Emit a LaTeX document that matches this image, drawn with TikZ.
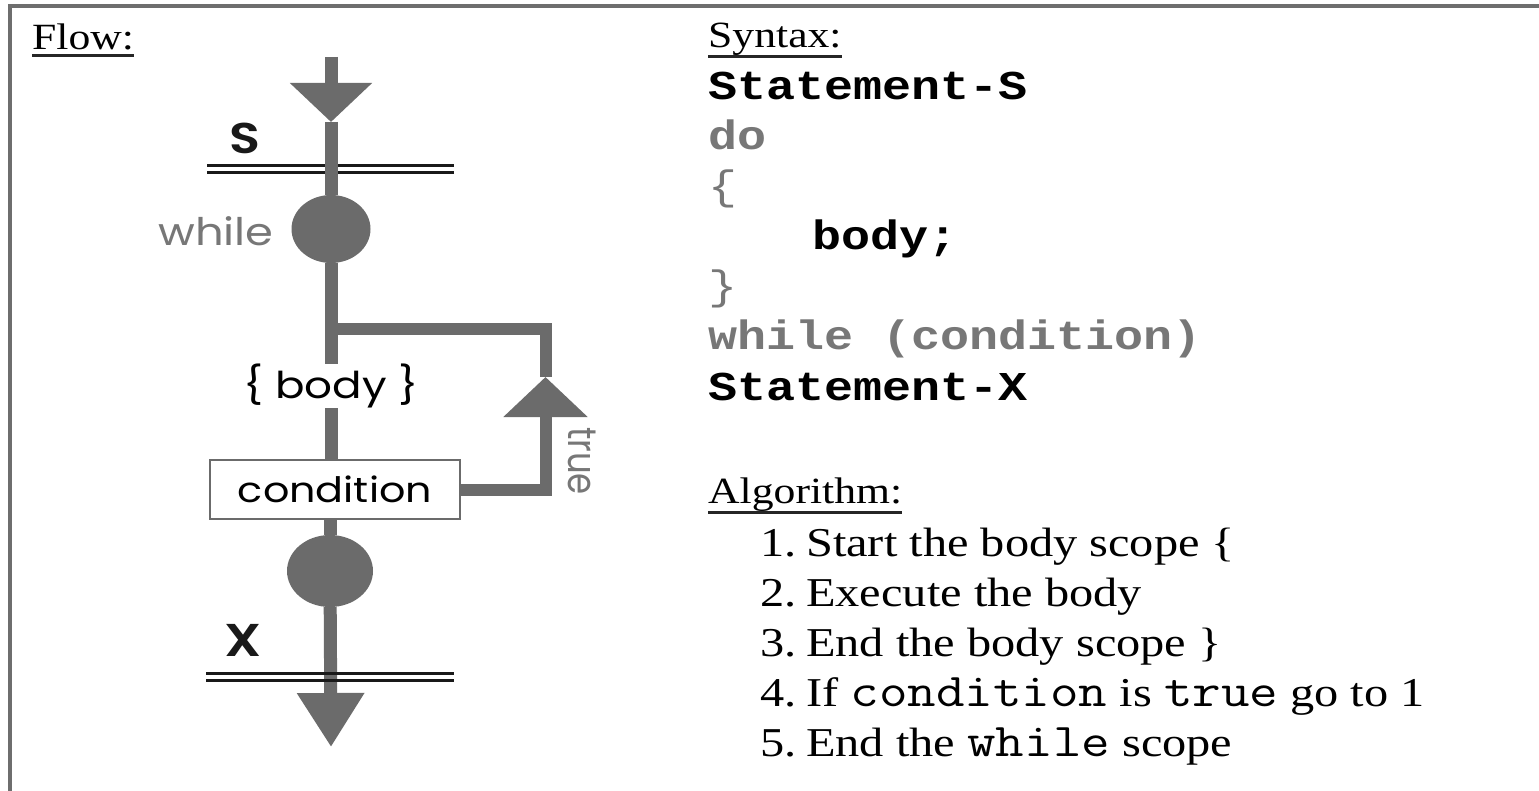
\documentclass[tikz,border=0pt]{standalone}
\usepackage{fontspec}
\usepackage{graphicx}
\usetikzlibrary{shapes.geometric,arrows.meta}
\setmainfont{Liberation Serif}
\newfontfamily\codefont{Liberation Mono}
\newfontfamily\flowfont{Poppins}
\newfontfamily\flowmid{Poppins SemiBold}
\definecolor{flowgray}{HTML}{6B6B6B}
\definecolor{codegray}{HTML}{777777}
\definecolor{framegray}{HTML}{6E6E6E}
% glyphs are set slightly wide throughout
\newcommand{\wideh}[1]{\scalebox{1.18}[1]{#1}}
\newcommand{\mono}[1]{{\ttfamily\fontsize{47}{48}\selectfont #1}}

\begin{document}
\begin{tikzpicture}[x=1pt,y=-1pt,
  bar/.style={draw=flowgray,line width=13pt},
  branch/.style={draw=flowgray,line width=12pt,line join=miter},
  dot/.style={ellipse,fill=flowgray,inner sep=0pt},
  rail/.style={draw=black!90,line width=3pt},
  lbl/.style={inner sep=0pt,font={\flowfont\fontsize{38}{44}\selectfont}},
  head/.style={inner sep=0pt,anchor=base west,font={\fontsize{37}{42}\selectfont}},
  code/.style={inner sep=0pt,anchor=base west,font={\codefont\bfseries\fontsize{41}{48}\selectfont}},
  item/.style={inner sep=0pt,anchor=base west,font={\fontsize{41}{46}\selectfont}},
  uline/.style={draw=black!85,line width=3pt},
]
\useasboundingbox (0,0) rectangle (1539,791);
\fill[white] (0,0) rectangle (1539,791);

% frame
\draw[framegray,line width=4pt,line join=miter] (10,791) -- (10,6) -- (1539,6);

% ---------- flow ----------
\node[head] (flow) at (32,50) {\wideh{Flow:}};
\draw[uline] ([yshift=-6pt]flow.base west) -- ([yshift=-6pt]flow.base east);

% statement S rails
\draw[rail] (207,165.5) -- (454,165.5);
\draw[rail] (207,173) -- (454,173);
\node[lbl,font={\flowmid\fontsize{43}{48}\selectfont},text=black!90] (s) at (245,138) {\wideh{S}};

\coordinate (top) at (331,57);
\coordinate (ttip) at (331,122);
\node[dot,minimum width=79pt,minimum height=68pt] (w1) at (331,229) {};
\node[lbl,text=codegray] (wl) at (216,231) {\wideh{while}};

\node[lbl,font={\flowfont\fontsize{37}{44}\selectfont}] (body) at (331,386) {\wideh{\{ body \}}};
\node[draw=flowgray,line width=2.5pt,fill=white,minimum width=250pt,minimum height=59pt,
      font={\flowfont\fontsize{35}{40}\selectfont}] (cond) at (335,489.5) {\wideh{condition}};
\node[dot,minimum width=86pt,minimum height=72pt] (w2) at (330,571) {};

\coordinate (j) at (331,329);
\coordinate (rtip) at (545.5,377);
\coordinate (btip) at (331,747);

\draw[bar,-{Triangle[width=80pt,length=39pt]}] (top) -- (ttip);
\draw[bar] (ttip) -- (w1);
\draw[bar] (w1) -- (body);
\draw[bar] (body) -- (body |- cond.north);
\draw[bar] (w2 |- cond.south) -- (w2);
\draw[bar,-{Triangle[width=64pt,length=54pt]}] (w2) -- (btip);

\draw[branch,-{Triangle[width=82pt,length=40pt]}] (cond.east) -| (rtip);
\draw[branch] (rtip) |- (j);

\node[inner sep=0pt,text=codegray,font={\flowfont\fontsize{34}{40}\selectfont}] (tr) at (582,461)
  {\wideh{\rotatebox{-90}{true}}};

% statement X rails
\node[lbl,font={\flowmid\fontsize{46}{52}\selectfont},text=black!90] (x) at (243.5,640) {\wideh{X}};
\draw[rail] (206,673) -- (454,673);
\draw[rail] (206,680) -- (454,680);

% ---------- syntax ----------
\node[head] (syn) at (708,48) {\wideh{Syntax:}};
\draw[uline] ([yshift=-9pt]syn.base west) -- ([yshift=-9pt]syn.base east);
\node[code] (c1) at (708,100) {\wideh{Statement-S}};
\node[code,text=codegray] (c2) at (708,150) {\wideh{do}};
\node[code,text=codegray,font={\codefont\fontsize{41}{48}\selectfont}] (c3) at (708,200) {\wideh{\{}};
\node[code] (c4) at (812,250) {\wideh{body;}};
\node[code,text=codegray,font={\codefont\fontsize{41}{48}\selectfont}] (c5) at (708,300) {\wideh{\}}};
\node[code,text=codegray] (c6) at (708,350) {\wideh{while (condition)}};
\node[code] (c7) at (708,400) {\wideh{Statement-X}};

% ---------- algorithm ----------
\node[head] (alg) at (708,503) {\wideh{Algorithm:}};
\draw[uline] ([yshift=-9pt]alg.base west) -- ([yshift=-9pt]alg.base east);
\node[item] (a1) at (760,556) {\wideh{1.\hspace{.2em}Start the body scope \{}};
\node[item] (a2) at (760,606) {\wideh{2.\hspace{.2em}Execute the body}};
\node[item] (a3) at (760,656) {\wideh{3.\hspace{.2em}End the body scope \}}};
\node[item] (a4) at (760,706) {\wideh{4.\hspace{.2em}If \mono{condition} is \mono{true} go to 1}};
\node[item] (a5) at (760,756) {\wideh{5.\hspace{.2em}End the \mono{while} scope}};
\end{tikzpicture}
\end{document}
